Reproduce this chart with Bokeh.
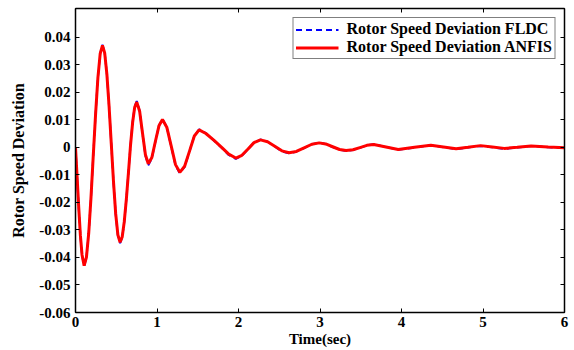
from bokeh.plotting import figure
from bokeh.models import LinearAxis, FixedTicker, Range1d, Legend, LegendItem
from bokeh.embed import file_html
from bokeh.resources import INLINE

time_sec = [0.000, 0.020, 0.040, 0.060, 0.080, 0.106, 0.134, 0.162, 0.190, 0.218,
            0.247, 0.275, 0.303, 0.331, 0.358, 0.385, 0.412, 0.439, 0.466, 0.493,
            0.520, 0.547, 0.573, 0.598, 0.624, 0.650, 0.675, 0.701, 0.726, 0.752,
            0.787, 0.822, 0.858, 0.893, 0.937, 0.980, 1.024, 1.067, 1.120, 1.174,
            1.227, 1.280, 1.339, 1.399, 1.458, 1.517, 1.600, 1.700, 1.800, 1.880,
            1.967, 2.042, 2.117, 2.190, 2.270, 2.357, 2.445, 2.532, 2.620, 2.710,
            2.805, 2.900, 2.990, 3.070, 3.155, 3.240, 3.320, 3.405, 3.490, 3.575,
            3.660, 3.810, 3.960, 4.160, 4.360, 4.515, 4.670, 4.815, 4.970, 5.115,
            5.260, 5.420, 5.590, 5.800, 6.000]

dev_anfis = [0.0000, -0.0110, -0.0220, -0.0320, -0.0390, -0.0430, -0.0400, -0.0313, -0.0183, -0.0030,
             0.0123, 0.0253, 0.0340, 0.0370, 0.0343, 0.0266, 0.0149, 0.0013, -0.0124, -0.0241,
             -0.0318, -0.0345, -0.0326, -0.0271, -0.0188, -0.0091, 0.0007, 0.0090, 0.0145, 0.0164,
             0.0131, 0.0052, -0.0027, -0.0060, -0.0037, 0.0021, 0.0078, 0.0101, 0.0073, 0.0005,
             -0.0063, -0.0091, -0.0069, -0.0014, 0.0041, 0.0063, 0.0050, 0.0025, -0.0002, -0.0025,
             -0.0039, -0.0029, -0.0006, 0.0017, 0.0027, 0.0020, 0.0004, -0.0013, -0.0020, -0.0015,
             -0.0002, 0.0011, 0.0016, 0.0012, 0.0002, -0.0008, -0.0012, -0.0009, -0.0001, 0.0007,
             0.0010, 0.0001, -0.0008, 0.0000, 0.0007, 0.0001, -0.0005, 0.0000, 0.0006, 0.0001,
             -0.0004, 0.0000, 0.0005, 0.0001, -0.0002]

dev_fldc = [0.0000, -0.0110, -0.0221, -0.0321, -0.0391, -0.0432, -0.0401, -0.0314, -0.0184, -0.0031,
            0.0123, 0.0254, 0.0341, 0.0372, 0.0344, 0.0266, 0.0148, 0.0012, -0.0125, -0.0243,
            -0.0320, -0.0348, -0.0328, -0.0272, -0.0188, -0.0090, 0.0008, 0.0092, 0.0148, 0.0168,
            0.0133, 0.0050, -0.0031, -0.0065, -0.0040, 0.0020, 0.0079, 0.0103, 0.0074, 0.0003,
            -0.0066, -0.0094, -0.0071, -0.0015, 0.0042, 0.0065, 0.0051, 0.0024, -0.0004, -0.0028,
            -0.0042, -0.0031, -0.0007, 0.0017, 0.0028, 0.0020, 0.0003, -0.0015, -0.0022, -0.0016,
            -0.0003, 0.0011, 0.0017, 0.0012, 0.0001, -0.0009, -0.0013, -0.0010, -0.0002, 0.0007,
            0.0011, 0.0001, -0.0009, -0.0001, 0.0007, 0.0000, -0.0007, -0.0001, 0.0005, 0.0000,
            -0.0006, -0.0001, 0.0005, 0.0000, -0.0002]

x_ticks = [0, 1, 2, 3, 4, 5, 6]
y_ticks = [-0.06, -0.05, -0.04, -0.03, -0.02, -0.01, 0, 0.01, 0.02, 0.03, 0.04]
y_tick_labels = ["-0.06", "-0.05", "-0.04", "-0.03", "-0.02", "-0.01", "0",
                 "0.01", "0.02", "0.03", "0.04"]

FONT = "Liberation Serif"

p = figure(width=574, height=350, output_backend="svg", toolbar_location=None,
           x_range=Range1d(0, 6), y_range=Range1d(-0.06, 0.0504),
           min_border_left=75, min_border_right=10, min_border_top=8, min_border_bottom=38)
p.background_fill_color = "white"
p.border_fill_color = "white"
p.grid.visible = False
p.outline_line_color = "black"
p.outline_line_width = 1

r_fldc = p.line(time_sec, dev_fldc, line_color="#0000ff", line_width=2, line_dash="6 4")
r_anfis = p.line(time_sec, dev_anfis, line_color="#ff0000", line_width=3)

for ax in p.xaxis:
    ax.ticker = FixedTicker(ticks=x_ticks)
for ax in p.yaxis:
    ax.ticker = FixedTicker(ticks=y_ticks)
    ax.major_label_overrides = {t: l for t, l in zip(y_ticks, y_tick_labels)}

def style(ax):
    ax.axis_line_color = "black"
    ax.axis_line_width = 1.5
    ax.major_tick_in = 4
    ax.major_tick_out = 0
    ax.major_tick_line_color = "black"
    ax.minor_tick_line_color = None
    ax.major_label_text_font = FONT
    ax.major_label_text_font_style = "bold"
    ax.major_label_text_font_size = "15px"
    ax.major_label_text_color = "black"
    ax.axis_label_text_font = FONT
    ax.axis_label_text_font_style = "bold"
    ax.axis_label_text_font_size = "15px"
    ax.axis_label_text_color = "black"

style(p.xaxis[0])
style(p.yaxis[0])
p.xaxis[0].axis_label = "Time(sec)"
p.yaxis[0].axis_label = "Rotor Speed Deviation"
p.yaxis[0].axis_label_text_font_size = "16px"
p.xaxis[0].major_label_standoff = 4
p.xaxis[0].axis_label_standoff = 1
p.yaxis[0].major_label_standoff = 5
p.yaxis[0].axis_label_standoff = 9

top = LinearAxis(ticker=FixedTicker(ticks=x_ticks))
right = LinearAxis(ticker=FixedTicker(ticks=y_ticks))
for ax in (top, right):
    style(ax)
    ax.major_label_text_color = None
    ax.major_label_standoff = 0
    ax.axis_line_width = 1.5
p.add_layout(top, "above")
p.add_layout(right, "right")

legend = Legend(items=[LegendItem(label="Rotor Speed Deviation FLDC", renderers=[r_fldc]),
                       LegendItem(label="Rotor Speed Deviation ANFIS", renderers=[r_anfis])],
                location="top_right")
legend.margin = 9
legend.padding = 2
legend.spacing = 0
legend.glyph_width = 43
legend.glyph_height = 15
legend.label_height = 15
legend.label_standoff = 8
legend.label_text_font = FONT
legend.label_text_font_style = "bold"
legend.label_text_font_size = "16px"
legend.label_text_color = "black"
legend.border_line_color = "black"
legend.border_line_width = 1.2
legend.background_fill_alpha = 1
p.add_layout(legend)

open("out.html", "w").write(file_html(p, INLINE))
